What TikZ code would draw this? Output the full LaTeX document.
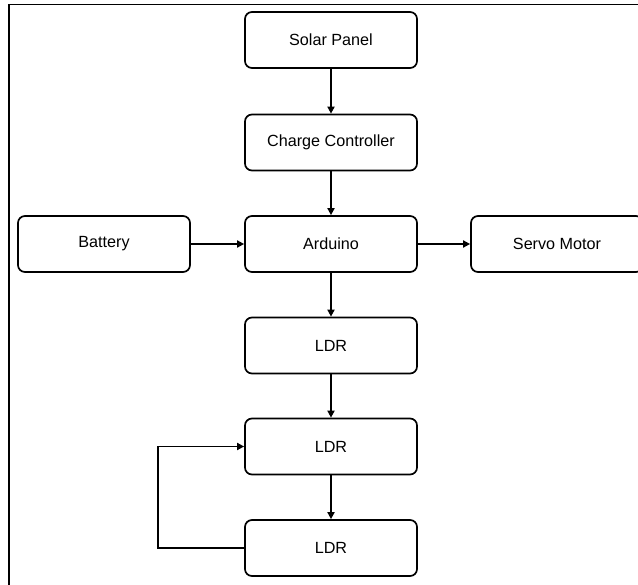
\documentclass[tikz,border=0pt]{standalone}
\usepackage{fontspec}
\setmainfont{Liberation Sans}
\usetikzlibrary{arrows.meta}
\begin{document}
\begin{tikzpicture}[x=0.025cm, y=-0.025cm, line width=1.2pt, >={Triangle[length=5pt,width=5pt]},
  main node/.style={rectangle,draw,rounded corners=5pt,minimum width=4.3cm,minimum height=1.4cm,inner sep=0pt,font=\fontsize{11.5}{13}\selectfont}]
\path[use as bounding box, clip] (0,0) rectangle (638,585);
\draw (9,600) -- (9,4.5) -- (650,4.5);
\begin{scope}
\node[main node] (solar) at (331,40) {Solar Panel};
\node[main node] (charge) at (331,142.5) {Charge Controller};
\node[main node] (arduino) at (331,244) {Arduino};
\node[main node] (battery) at (104,244) {Battery};
\node[main node] (servo) at (557,244) {Servo Motor};
\node[main node] (ldr1) at (331,345.5) {LDR};
\node[main node] (ldr2) at (331,446.5) {LDR};
\node[main node] (ldr3) at (331,548) {LDR};
\coordinate (loop) at (158,548);
\end{scope}
\begin{scope}
\draw[->] (solar) -- (charge);
\draw[->] (charge) -- (arduino);
\draw[->] (battery) -- (arduino);
\draw[->] (arduino) -- (servo);
\draw[->] (arduino) -- (ldr1);
\draw[->] (ldr1) -- (ldr2);
\draw[->] (ldr2) -- (ldr3);
\draw[->] (ldr3.west) -- (loop) |- (ldr2.west);
\end{scope}
\end{tikzpicture}
\end{document}
